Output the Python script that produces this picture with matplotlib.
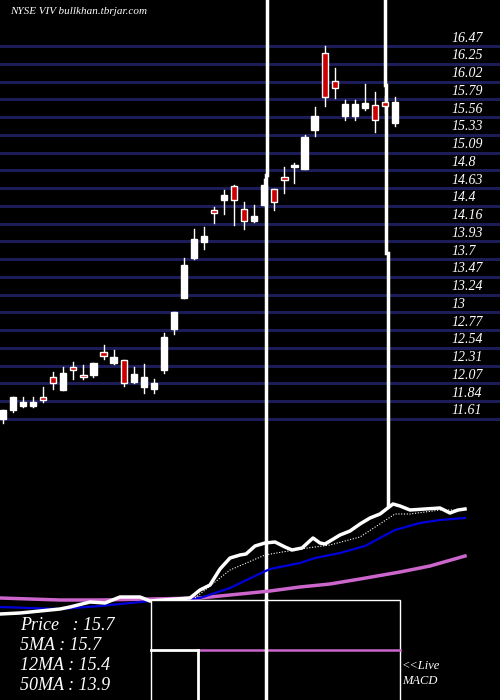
import matplotlib
matplotlib.use("Agg")
import matplotlib.pyplot as plt
import numpy as np

# price levels shown on the right
levels = [16.47, 16.25, 16.02, 15.79, 15.56, 15.33, 15.09, 14.8, 14.63, 14.4, 14.16,
          13.93, 13.7, 13.47, 13.24, 13, 12.77, 12.54, 12.31, 12.07, 11.84, 11.61]

# candles (body top, body bottom, high, low)
body_top = [11.73, 11.90, 11.83, 11.83, 11.89, 12.15, 12.21, 12.28, 12.18, 12.34,
            12.48, 12.42, 12.38, 12.20, 12.16, 12.07, 12.68, 13.00, 13.61, 13.95,
            13.99, 14.33, 14.53, 14.65, 14.34, 14.26, 14.66, 14.61, 14.76, 14.92,
            15.29, 15.56, 16.38, 16.02, 15.72, 15.72, 15.73, 15.70, 15.74, 15.74]
body_bot = [11.61, 11.72, 11.77, 11.77, 11.86, 12.08, 11.99, 12.25, 12.15, 12.18,
            12.43, 12.34, 12.07, 12.09, 12.02, 12.00, 12.24, 12.78, 13.18, 13.70,
            13.92, 14.29, 14.46, 14.46, 14.19, 14.19, 14.40, 14.43, 14.72, 14.89,
            14.87, 15.38, 15.81, 15.92, 15.56, 15.56, 15.66, 15.50, 15.69, 15.47]
highs = [11.73, 11.90, 11.90, 11.90, 12.03, 12.22, 12.29, 12.35, 12.31, 12.34,
         12.57, 12.50, 12.38, 12.28, 12.33, 12.13, 12.73, 13.00, 13.70, 14.08,
         14.11, 14.37, 14.59, 14.66, 14.43, 14.40, 14.73, 14.61, 14.89, 14.94,
         15.31, 15.68, 16.47, 16.18, 15.76, 15.76, 15.98, 15.87, 15.82, 15.81]
lows = [11.55, 11.70, 11.76, 11.76, 11.83, 12.00, 11.99, 12.13, 12.13, 12.15,
        12.39, 12.33, 12.04, 12.08, 11.94, 11.94, 12.21, 12.72, 13.18, 13.69,
        13.82, 14.16, 14.28, 14.13, 14.09, 14.17, 14.40, 14.33, 14.55, 14.68,
        14.86, 15.30, 15.69, 15.79, 15.50, 15.50, 15.64, 15.35, 15.60, 15.43]
red = [4, 5, 7, 8, 10, 12, 21, 23, 24, 27, 28, 32, 33, 37, 38]

# lower panel lines (x position, level)
price_x = [0, 20, 40, 60, 70, 90, 105, 120, 140, 150, 190, 200, 210, 220, 230, 240, 246,
           255, 265, 275, 285, 292, 302, 313, 320, 325, 340, 350, 360, 370, 380, 393,
           400, 410, 425, 440, 450, 458, 465]
price_y = [614, 613, 611, 609, 607, 602, 603, 597, 597, 601, 598, 590, 585, 569, 558, 555,
           554, 546, 543, 542, 547, 550, 548, 538, 543, 544, 535, 531, 524, 518, 514, 504,
           506, 510, 509, 508, 513, 510, 509]
ma5_x = [195, 230, 265, 300, 330, 360, 395, 410, 440, 465]
ma5_y = [598, 570, 555, 549, 545, 537, 514, 514, 510, 510]
ma12_x = [0, 30, 60, 100, 150, 200, 230, 255, 270, 300, 315, 340, 365, 395, 420, 440, 465]
ma12_y = [607, 608, 609, 606, 601, 598, 588, 576, 569, 563, 558, 553, 546, 530, 523, 520, 518]
ma50_x = [0, 30, 60, 100, 150, 200, 240, 270, 300, 330, 360, 400, 430, 465]
ma50_y = [598, 599, 600, 600, 599, 598, 594, 591, 587, 584, 579, 572, 566, 556]

stats = ["Price   : 15.7", "5MA : 15.7", "12MA : 15.4", "50MA : 13.9"]

fig = plt.figure(figsize=(5, 7), dpi=100, facecolor="black")
ax = fig.add_axes([0, 0, 1, 1])
ax.set_xlim(0, 500)
ax.set_ylim(700, 0)
ax.axis("off")
ax.set_facecolor("black")

serif = dict(family="Liberation Serif", style="italic", color="white")

# grid lines and labels
grid_y = np.linspace(46, 419, len(levels))
for gy, lab in zip(grid_y, levels):
    ax.plot([0, 500], [gy, gy], color="#1c1c58", lw=2.2, zorder=1)
    ax.text(451, gy - 8, f"{lab:g}", fontsize=10, va="center", ha="left", **serif)

ax.text(10, 12, "NYSE VIV bullkhan.tbrjar.com", fontsize=8, va="center", **serif)

# candles on a price axis
pax = fig.add_axes([0, 0, 1, 1], facecolor="none")
top_p = 16.47 + 46 / 76.7
bot_p = 16.47 - 654 / 76.7
pax.set_ylim(bot_p, top_p)
pax.set_xlim(-0.3, 49.45)
pax.axis("off")
for i in range(len(body_top)):
    col = "#cc0000" if i in red else "white"
    pax.plot([i, i], [lows[i], highs[i]], color="white", lw=1, zorder=3)
    pax.bar(i, body_top[i] - body_bot[i], bottom=body_bot[i], width=0.62,
            color=col, edgecolor="white", linewidth=1, zorder=4)

# vertical white lines
ax.plot([267, 267], [0, 175], color="white", lw=2.5, zorder=5)
ax.plot([265.5, 265.5], [175, 700], color="white", lw=2.5, zorder=5)
ax.plot([385, 385], [0, 85], color="white", lw=2.5, zorder=5)
ax.plot([386, 386], [85, 253], color="white", lw=2.5, zorder=5)
ax.plot([387.5, 387.5], [253, 505], color="white", lw=2.5, zorder=5)

# lower panel
ax.plot(ma50_x, ma50_y, color="#cc66cc", lw=2.5, zorder=6)
ax.plot(ma12_x, ma12_y, color="#0000dd", lw=1.6, zorder=6)
ax.plot(ma5_x, ma5_y, color="white", lw=0.8, ls=(0, (1, 1.5)), zorder=6)
ax.plot(price_x, price_y, color="white", lw=2.5, zorder=7)

# MACD box
ax.add_patch(plt.Rectangle((151, 600), 249, 110, fill=True, facecolor="black",
                           edgecolor="white", lw=1, zorder=8))
ax.plot([198, 400], [650, 650], color="#cc66cc", lw=1.8, zorder=9)
ax.plot([151, 198], [650, 650], color="white", lw=2, zorder=9)
ax.plot([198, 198], [650, 700], color="white", lw=2, zorder=9)
ax.plot([265.5, 265.5], [600, 700], color="white", lw=2.5, zorder=9)
ax.text(402, 666, "<<Live", fontsize=9, va="center", **serif)
ax.text(402, 681, "MACD", fontsize=9, va="center", **serif)

for k, s in enumerate(stats):
    ax.text(20, 625 + k * 20, s, fontsize=13, va="center", zorder=10, **serif)

fig.savefig("out.png", dpi=100, facecolor="black")
